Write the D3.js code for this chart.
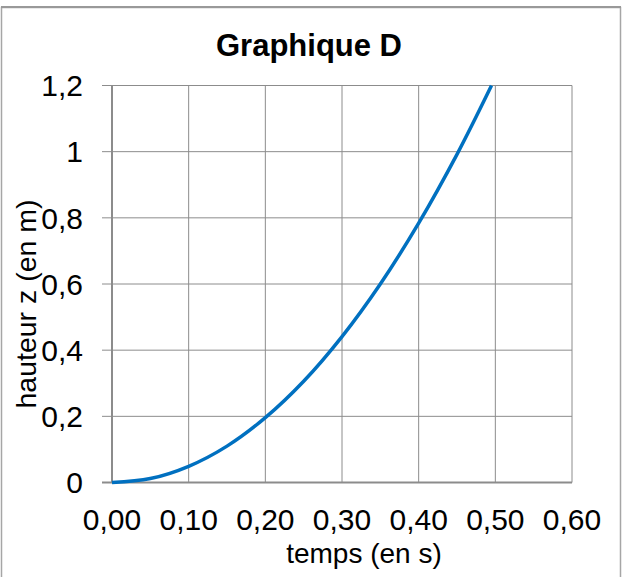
<!DOCTYPE html>
<html>
<head>
<meta charset="utf-8">
<script src="https://cdn.jsdelivr.net/npm/d3@7"></script>
<style>
  html, body { margin: 0; padding: 0; background: #fff; }
  svg { display: block; font-family: "Liberation Sans", Arial, sans-serif; }
</style>
</head>
<body>
<div id="chart"></div>
<script>
// data
var times = [0, 0.05, 0.10, 0.15, 0.20, 0.25, 0.30, 0.35, 0.40, 0.45, 0.495];
var heights = [0, 0.012, 0.049, 0.110, 0.196, 0.306, 0.441, 0.600, 0.784, 0.992, 1.20];
var xTicks = [0, 0.1, 0.2, 0.3, 0.4, 0.5, 0.6];
var yTicks = [0, 0.2, 0.4, 0.6, 0.8, 1, 1.2];

var width = 627, height = 577;
var plot = { left: 112, right: 572, top: 85.5, bottom: 482.5 };

var svg = d3.select("#chart").append("svg")
  .attr("width", width)
  .attr("height", height);

// chart border
svg.append("rect")
  .attr("x", 1.5).attr("y", 7.5)
  .attr("width", 619).attr("height", 600)
  .style("fill", "#fff")
  .style("stroke", "#a6a6a6")
  .style("stroke-width", 1.5);
svg.append("line")
  .attr("x1", 1).attr("x2", 621)
  .attr("y1", 7).attr("y2", 7)
  .style("stroke", "#999")
  .style("stroke-width", 2);

const xScale = d3.scaleLinear().domain([0, 0.6]).range([plot.left, plot.right]);
const yScale = d3.scaleLinear().domain([0, 1.2]).range([plot.bottom, plot.top]);

var frFmt = d => d.toFixed(2).replace(".", ",");
var frFmtY = d => (Math.round(d * 10) / 10).toString().replace(".", ",");

// grid
var grid = svg.append("g");
grid.selectAll("line.gx")
  .data(xTicks.slice(1))
  .enter()
  .append("line")
  .attr("x1", d => xScale(d)).attr("x2", d => xScale(d))
  .attr("y1", plot.top).attr("y2", plot.bottom)
  .style("stroke", "#8c8c8c").style("stroke-width", 1);
grid.selectAll("line.gy")
  .data(yTicks.slice(1))
  .enter()
  .append("line")
  .attr("x1", plot.left - 10).attr("x2", plot.right)
  .attr("y1", d => yScale(d)).attr("y2", d => yScale(d))
  .style("stroke", "#8c8c8c").style("stroke-width", 1);

// axes lines
svg.append("line")
  .attr("x1", plot.left).attr("x2", plot.left)
  .attr("y1", plot.top).attr("y2", plot.bottom)
  .style("stroke", "#8c8c8c").style("stroke-width", 2);
svg.append("line")
  .attr("x1", plot.left - 10).attr("x2", plot.right)
  .attr("y1", plot.bottom).attr("y2", plot.bottom)
  .style("stroke", "#8c8c8c").style("stroke-width", 2);

// tick labels
svg.append("g").selectAll("text")
  .data(xTicks)
  .enter()
  .append("text")
  .attr("x", d => xScale(d))
  .attr("y", 530)
  .attr("text-anchor", "middle")
  .style("font-size", "30px")
  .text(frFmt);

svg.append("g").selectAll("text")
  .data(yTicks)
  .enter()
  .append("text")
  .attr("x", 83)
  .attr("y", d => yScale(d))
  .attr("dy", "0.36em")
  .attr("text-anchor", "end")
  .style("font-size", "30px")
  .text(frFmtY);

// curve
var pts = times.map((t, i) => [t, heights[i]]);
svg.append("path")
  .datum(pts)
  .attr("d", d3.line()
    .x(d => xScale(d[0]))
    .y(d => yScale(d[1]))
    .curve(d3.curveCatmullRom))
  .style("fill", "none")
  .style("stroke", "#0070c0")
  .style("stroke-width", 3.5);

// titles
svg.append("text")
  .attr("x", 309).attr("y", 56)
  .attr("text-anchor", "middle")
  .style("font-size", "31px")
  .style("font-weight", "bold")
  .text("Graphique D");

svg.append("text")
  .attr("x", 364).attr("y", 563)
  .attr("text-anchor", "middle")
  .style("font-size", "28px")
  .text("temps (en s)");

svg.append("text")
  .attr("transform", "translate(36,304) rotate(-90)")
  .attr("text-anchor", "middle")
  .style("font-size", "28.5px")
  .text("hauteur z (en m)");
</script>
</body>
</html>
